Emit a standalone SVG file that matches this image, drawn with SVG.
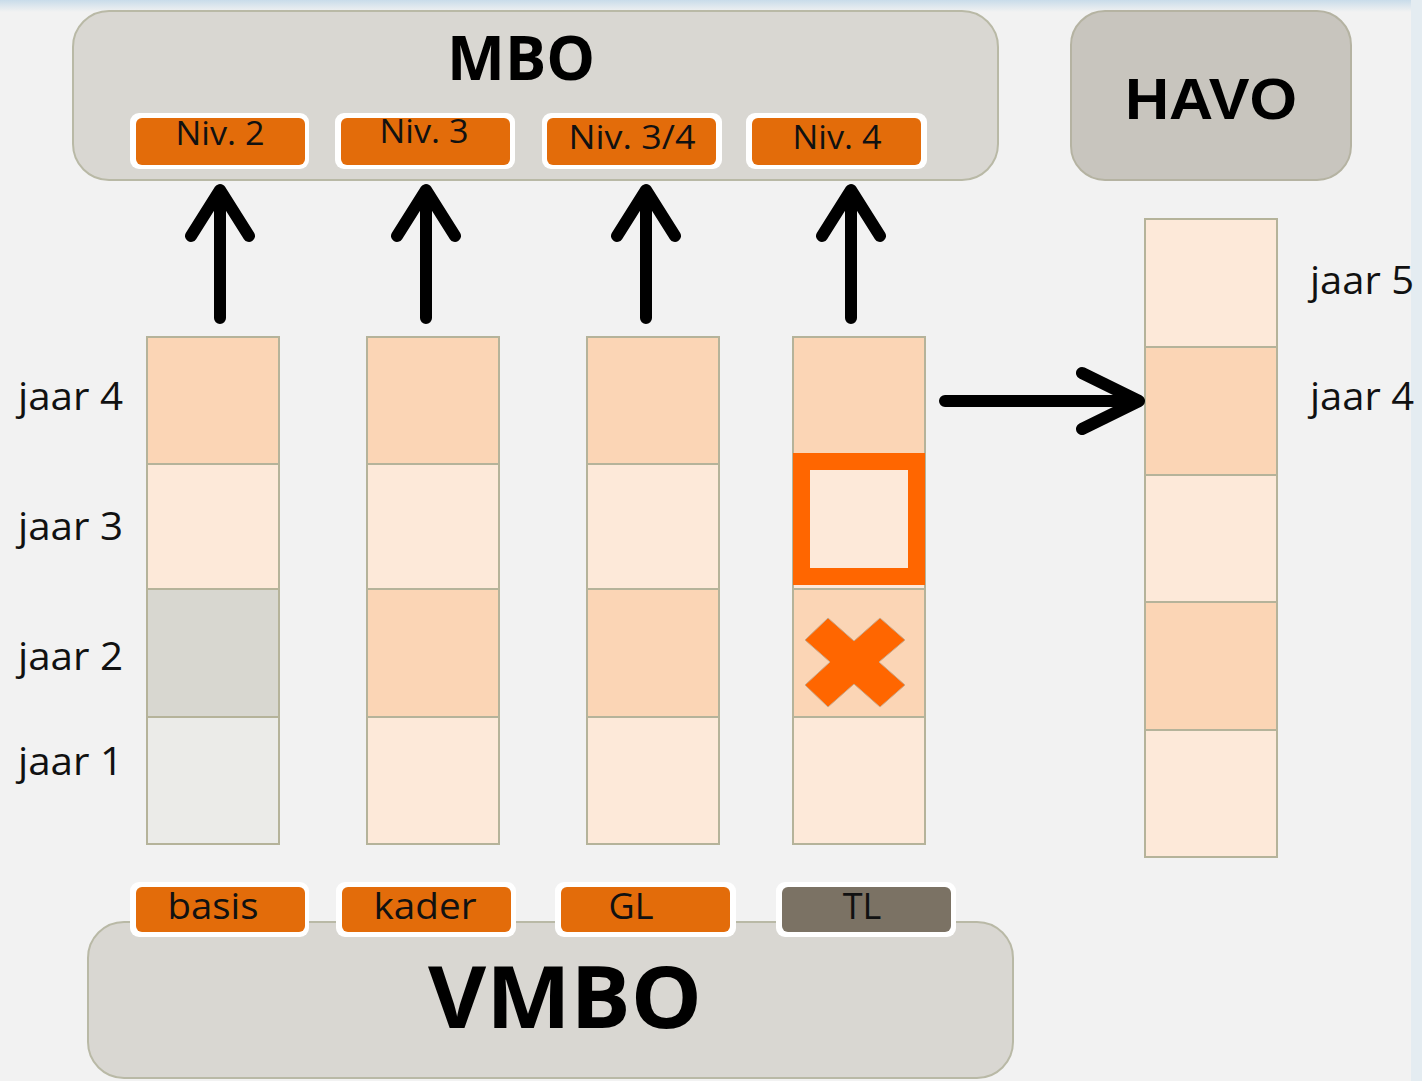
<svg xmlns="http://www.w3.org/2000/svg" width="1422" height="1081" viewBox="0 0 1422 1081">
<defs>
<linearGradient id="topbar" x1="0" y1="0" x2="0" y2="1">
<stop offset="0" stop-color="#c9dcea"/>
<stop offset="1" stop-color="#f2f2f2"/>
</linearGradient>
<style>
.big{fill:#d9d7d2;stroke:#b9b9a6;stroke-width:2}
.tagw{fill:#ffffff}
.tago{fill:#e36c0a}
.tagg{fill:#7b7264}
.tt{font-family:"Open Sans","DejaVu Sans",sans-serif;font-size:33px;fill:#111;text-anchor:middle}
.tb{font-family:"Open Sans","DejaVu Sans",sans-serif;font-size:36px;fill:#111;text-anchor:middle}
.title{font-family:"Open Sans","DejaVu Sans",sans-serif;font-weight:bold;fill:#000;text-anchor:middle}
.lab{font-family:"Open Sans","DejaVu Sans",sans-serif;font-size:38px;fill:#111}
.c1{fill:#fbd5b5;stroke:#b5b39a;stroke-width:2}
.c2{fill:#fde9d9;stroke:#b5b39a;stroke-width:2}
.c3{fill:#d8d7d0;stroke:#b5b39a;stroke-width:2}
.c4{fill:#ebebe8;stroke:#b5b39a;stroke-width:2}
.arr{fill:none;stroke:#000;stroke-width:12;stroke-linecap:round;stroke-linejoin:round}
</style>
</defs>
<rect x="0" y="0" width="1422" height="1081" fill="#f2f2f2"/>
<rect x="0" y="0" width="1422" height="12" fill="url(#topbar)"/>
<rect x="1411" y="0" width="11" height="1081" fill="#e4ecf1"/>

<g id="mbo">
<rect class="big" x="73" y="11" width="925" height="169" rx="36"/>
<text class="title" x="521" y="80" font-size="60" textLength="148" lengthAdjust="spacingAndGlyphs">MBO</text>
</g>
<g id="niv2"><rect class="tagw" x="130" y="113" width="179" height="56" rx="9"/><rect class="tago" x="136" y="118" width="169" height="47" rx="6"/><text class="tt" x="220" y="145" textLength="89" lengthAdjust="spacingAndGlyphs">Niv. 2</text></g>
<g id="niv3"><rect class="tagw" x="335" y="113" width="180" height="56" rx="9"/><rect class="tago" x="341" y="118" width="169" height="47" rx="6"/><text class="tt" x="424" y="143" textLength="89" lengthAdjust="spacingAndGlyphs">Niv. 3</text></g>
<g id="niv34"><rect class="tagw" x="542" y="113" width="180" height="56" rx="9"/><rect class="tago" x="547" y="118" width="169" height="47" rx="6"/><text class="tt" x="632" y="149" textLength="127" lengthAdjust="spacingAndGlyphs">Niv. 3/4</text></g>
<g id="niv4"><rect class="tagw" x="746" y="113" width="181" height="56" rx="9"/><rect class="tago" x="752" y="118" width="169" height="47" rx="6"/><text class="tt" x="837" y="149" textLength="89" lengthAdjust="spacingAndGlyphs">Niv. 4</text></g>

<g id="havo">
<rect x="1071" y="11" width="280" height="169" rx="34" fill="#c8c5be" stroke="#b5b3a2" stroke-width="2"/>
<text x="1211" y="119" font-family="'Liberation Sans',Arial,sans-serif" font-weight="bold" font-size="58" text-anchor="middle" fill="#000" textLength="172" lengthAdjust="spacingAndGlyphs">HAVO</text>
</g>

<g id="col-basis">
<rect class="c1" x="147" y="337" width="132" height="127"/>
<rect class="c2" x="147" y="464" width="132" height="125"/>
<rect class="c3" x="147" y="589" width="132" height="128"/>
<rect class="c4" x="147" y="717" width="132" height="127"/>
</g>
<g id="col-kader">
<rect class="c1" x="367" y="337" width="132" height="127"/>
<rect class="c2" x="367" y="464" width="132" height="125"/>
<rect class="c1" x="367" y="589" width="132" height="128"/>
<rect class="c2" x="367" y="717" width="132" height="127"/>
</g>
<g id="col-gl">
<rect class="c1" x="587" y="337" width="132" height="127"/>
<rect class="c2" x="587" y="464" width="132" height="125"/>
<rect class="c1" x="587" y="589" width="132" height="128"/>
<rect class="c2" x="587" y="717" width="132" height="127"/>
</g>
<g id="col-tl">
<rect class="c1" x="793" y="337" width="132" height="127"/>
<rect class="c2" x="793" y="464" width="132" height="125"/>
<rect class="c1" x="793" y="589" width="132" height="128"/>
<rect class="c2" x="793" y="717" width="132" height="127"/>
<rect x="801.5" y="461.5" width="115" height="115" fill="#fde9d9" stroke="#ff6600" stroke-width="17"/>
<polygon points="828,618 854,641 880,618 905,640 879,662 905,685 880,707 854,684 828,707 805,685 830,662 805,640" fill="#ff6600" stroke="#c9a88a" stroke-width="1"/>
</g>
<g id="col-havo">
<rect class="c2" x="1145" y="219" width="132" height="128"/>
<rect class="c1" x="1145" y="347" width="132" height="128"/>
<rect class="c2" x="1145" y="475" width="132" height="127"/>
<rect class="c1" x="1145" y="602" width="132" height="128"/>
<rect class="c2" x="1145" y="730" width="132" height="127"/>
</g>

<g id="labels">
<text class="lab" x="18" y="410" textLength="105" lengthAdjust="spacingAndGlyphs">jaar 4</text>
<text class="lab" x="18" y="540" textLength="105" lengthAdjust="spacingAndGlyphs">jaar 3</text>
<text class="lab" x="18" y="670" textLength="105" lengthAdjust="spacingAndGlyphs">jaar 2</text>
<text class="lab" x="18" y="775" textLength="105" lengthAdjust="spacingAndGlyphs">jaar 1</text>
<text class="lab" x="1310" y="294" textLength="104" lengthAdjust="spacingAndGlyphs">jaar 5</text>
<text class="lab" x="1310" y="410" textLength="104" lengthAdjust="spacingAndGlyphs">jaar 4</text>
</g>

<g id="connectors">
<path class="arr" d="M220,318 V192 M191,236 L220,190 L249,236"/>
<path class="arr" d="M426,318 V192 M397,236 L426,190 L455,236"/>
<path class="arr" d="M646,318 V192 M617,236 L646,190 L675,236"/>
<path class="arr" d="M851,318 V192 M822,236 L851,190 L880,236"/>
<path class="arr" d="M945,401 H1136 M1082,373 L1139,401 L1082,429"/>
</g>

<g id="vmbo">
<rect class="big" x="88" y="922" width="925" height="156" rx="36"/>
<text class="title" x="565" y="1028" font-size="86" textLength="274" lengthAdjust="spacingAndGlyphs">VMBO</text>
</g>
<g id="basis"><rect class="tagw" x="130" y="882" width="179" height="55" rx="9"/><rect class="tago" x="136" y="887" width="169" height="45" rx="6"/><text class="tb" x="213" y="919" textLength="91" lengthAdjust="spacingAndGlyphs">basis</text></g>
<g id="kader"><rect class="tagw" x="336" y="882" width="180" height="55" rx="9"/><rect class="tago" x="342" y="887" width="169" height="45" rx="6"/><text class="tb" x="425" y="919" textLength="103" lengthAdjust="spacingAndGlyphs">kader</text></g>
<g id="gl"><rect class="tagw" x="555" y="882" width="181" height="55" rx="9"/><rect class="tago" x="561" y="887" width="169" height="45" rx="6"/><text class="tb" x="631" y="919">GL</text></g>
<g id="tl"><rect class="tagw" x="776" y="882" width="180" height="55" rx="9"/><rect class="tagg" x="782" y="887" width="169" height="45" rx="6"/><text class="tb" x="862" y="919">TL</text></g>
</svg>
